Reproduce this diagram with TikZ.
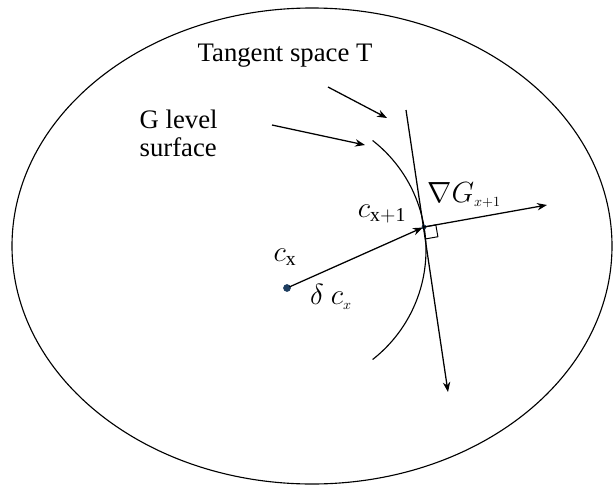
\documentclass[tikz,border=0pt]{standalone}
\usepackage{fontspec}
\setmainfont{Liberation Serif}
\usepackage{amsmath,amssymb}
\usetikzlibrary{arrows.meta, positioning}
\definecolor{dotcolor}{RGB}{30,62,96}

\begin{document}
\begin{tikzpicture}[
    x=0.025cm, y=-0.025cm,
    line/.style={line width=0.8pt},
    arrow/.style={-Stealth, line width=0.9pt},
    pt/.style={circle, fill=dotcolor, inner sep=0pt, minimum size=4.5pt},
    label/.style={font=\fontsize{19}{20}\selectfont, inner sep=1pt},
    mlabel/.style={font=\fontsize{20}{22}\selectfont, inner sep=1pt}
  ]
    \useasboundingbox (0,0) rectangle (613,487);

    %% Outer region
    \draw[line] (312,246) ellipse [x radius=300, y radius=238];

    %% G level surface (arc) and points
    \draw[line] (287,250) ++(-52:139) arc[start angle=-52, end angle=52, radius=139];
    \node[pt, minimum size=5.5pt] (cx) at (287,288) {};
    \node[pt, minimum size=3.5pt] (cxnext) at (424,227) {};
    \coordinate (gradend) at (547,205);
    \coordinate (tantop) at (406,110);
    \coordinate (tanbot) at (448,392);

    %% Tangent space, step and gradient
    \draw[arrow] (tantop) -- (tanbot);
    \draw[arrow, shorten <=-1pt, shorten >=-1pt] (cx) -- (cxnext);
    \draw[arrow] (cxnext.center) -- (gradend);
    \draw[line width=0.7pt] (cxnext.center) -- ++(-10:12) -- ++(80:12) -- ++(170:12);

    %% Labels
    \node[label] (tanlbl) at (285,56) {Tangent space T};
    \node[label, align=left, anchor=north west] (glbl) at (138,108) {G level\\surface};
    \node[mlabel] (cxlbl) at (285,257) {$c_{\mathrm{x}}$};
    \node[mlabel] (dlbl) at (331,297) {$\delta\ c_{\scriptscriptstyle x}$};
    \node[mlabel] (cxnextlbl) at (382,214) {$c_{\mathrm{x+1}}$};
    \node[mlabel] (gradlbl) at (464,195) {$\nabla G_{\scriptscriptstyle x+1}$};

    %% Pointer arrows
    \coordinate (tanfrom) at (328,87);
    \coordinate (tanto) at (387,118);
    \coordinate (gfrom) at (272,125);
    \coordinate (gto) at (365,145);
    \draw[arrow] (tanfrom) -- (tanto);
    \draw[arrow] (gfrom) -- (gto);
\end{tikzpicture}
\end{document}
